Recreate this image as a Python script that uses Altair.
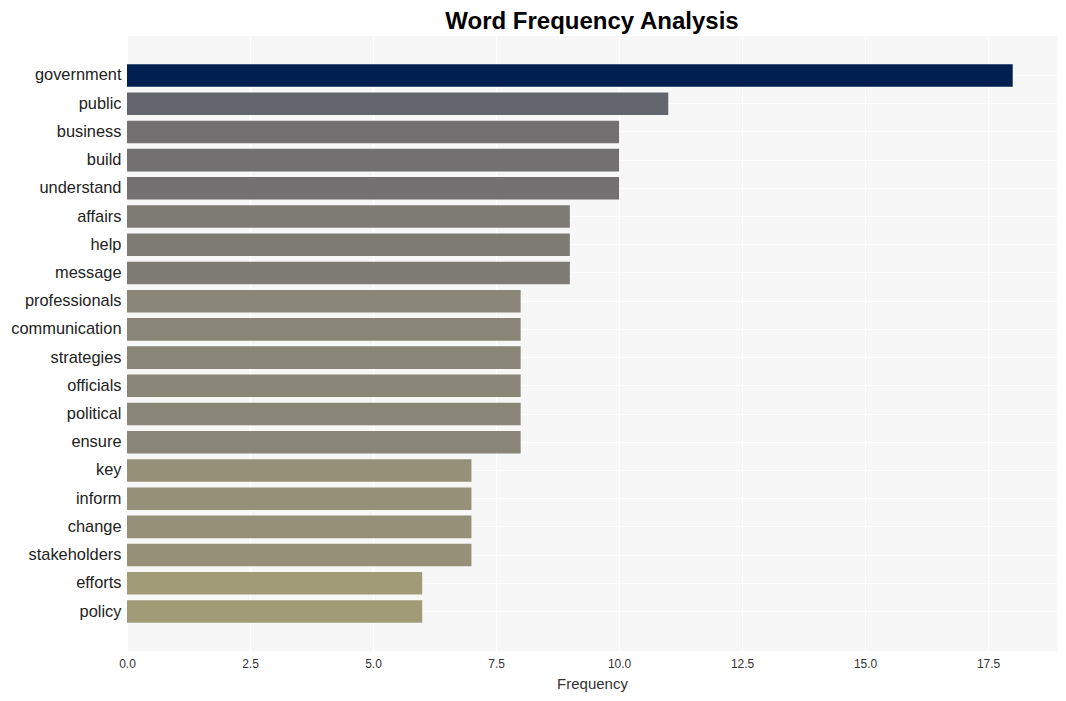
import altair as alt
import pandas as pd

words = ["government", "public", "business", "build", "understand", "affairs", "help",
         "message", "professionals", "communication", "strategies", "officials",
         "political", "ensure", "key", "inform", "change", "stakeholders", "efforts", "policy"]
freqs = [18, 11, 10, 10, 10, 9, 9, 9, 8, 8, 8, 8, 8, 8, 7, 7, 7, 7, 6, 6]

df = pd.DataFrame({"word": words, "freq": freqs})

chart = alt.Chart(df).mark_bar().encode(
    x=alt.X("freq:Q", title="Frequency",
            scale=alt.Scale(domain=[0, 18.9], nice=False, zero=True),
            axis=alt.Axis(values=[0, 2.5, 5, 7.5, 10, 12.5, 15, 17.5], format=".1f",
                          labelFontSize=12, titleFontSize=15, labelPadding=7,
                          titlePadding=7, ticks=False, domain=False, labelFlush=False,
                          gridColor="white", gridWidth=1, labelColor="#333333",
                          titleColor="#333333", titleFontWeight="normal")),
    y=alt.Y("word:N", sort=words, title=None,
            scale=alt.Scale(paddingInner=0.2, paddingOuter=1.0),
            axis=alt.Axis(labelFontSize=16.4, labelPadding=6, ticks=False, domain=False,
                          grid=True, gridColor="white", gridWidth=1, bandPosition=0.5,
                          labelColor="#222222")),
    color=alt.Color("freq:Q", scale=alt.Scale(scheme="cividis", domain=[0, 18], reverse=True),
                    legend=None),
).properties(
    width=930,
    height=615,
    title=alt.Title("Word Frequency Analysis", fontSize=24, fontWeight="bold",
                    font="Liberation Sans", color="black", anchor="middle", offset=2),
    autosize=alt.AutoSizeParams(type="none"),
    padding={"left": 119, "top": 28, "right": 1, "bottom": 42},
).configure(
    font="Liberation Sans",
).configure_view(
    fill="#f7f7f7", stroke=None,
)

chart.save("out.html", embed_options={"renderer": "svg", "actions": False})
